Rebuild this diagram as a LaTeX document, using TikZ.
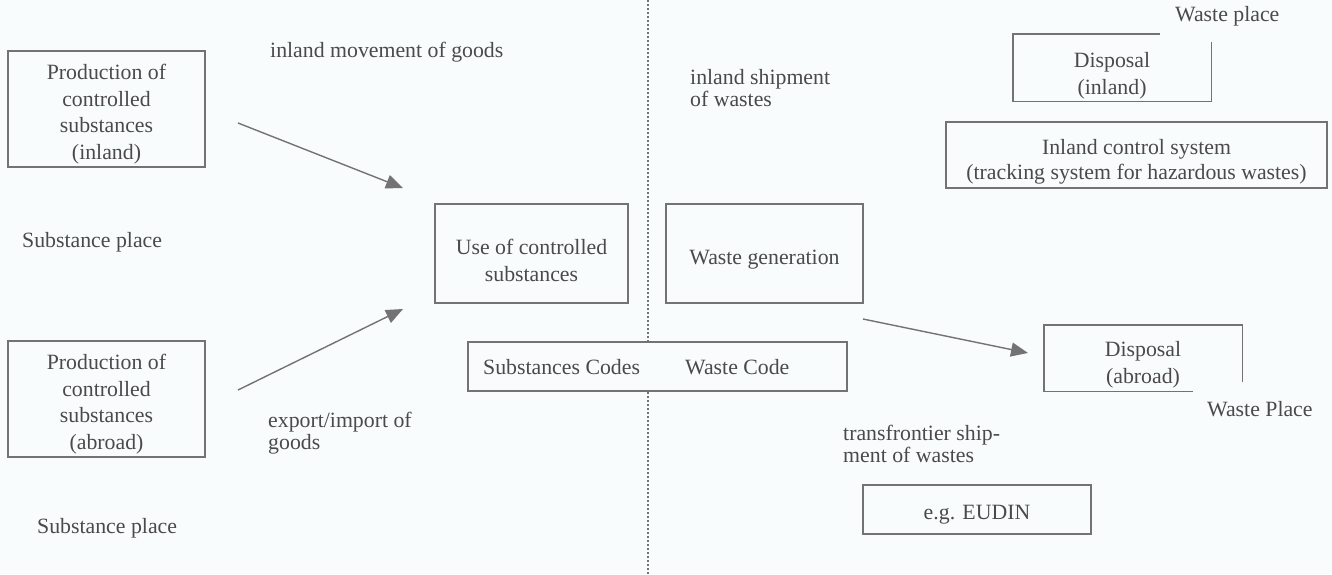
\documentclass[tikz,border=0pt]{standalone}
\usepackage{fontspec}
\setmainfont{Liberation Serif}
\usetikzlibrary{arrows.meta}
\definecolor{bg}{rgb}{0.975,0.99,0.99}
\definecolor{ink}{rgb}{0.29,0.29,0.29}
\definecolor{edge}{rgb}{0.45,0.45,0.45}

\begin{document}
\begin{tikzpicture}[x=1pt,y=-1pt,
  every node/.style={text=ink,font=\fontsize{21.8}{26.7}\selectfont},
  box/.style={draw=edge,line width=1.4pt,fill=bg,inner sep=0pt},
  boxtext/.style={align=center,inner sep=0pt},
  lbl/.style={anchor=west,inner sep=0pt,align=left,font=\fontsize{21.8}{22.5}\selectfont},
  flow/.style={draw=edge,line width=1.4pt,-{Triangle[length=17pt,width=14pt]}},
  divider/.style={draw=edge,line width=1.6pt,dash pattern=on 1.6pt off 2.4pt},
  rim/.style={draw=edge,line width=1.4pt},
]
\fill[bg] (0,0) rectangle (1332,574);
\useasboundingbox (0,0) rectangle (1332,574);

% dotted border between substances and wastes
\coordinate (divtop) at (648,0);
\coordinate (divbot) at (648,574);
\path[divider] (divtop) -- (divbot);

% substance side
\node[box,minimum width=197pt,minimum height=116pt] (prodin) at (106.5,109) {};
\node[boxtext] (prodintext) at ([yshift=-5pt]prodin.center)
  {Production of\\controlled\\substances\\(inland)};
\node[box,minimum width=197pt,minimum height=116pt] (prodab) at (106.5,399) {};
\node[boxtext] (prodabtext) at ([yshift=-5pt]prodab.center)
  {Production of\\controlled\\substances\\(abroad)};
\node[box,minimum width=193pt,minimum height=99pt] (use) at (531.5,253.5) {};
\node[boxtext] (usetext) at ([yshift=-7pt]use.center)
  {Use of controlled\\substances};

\node[lbl] (placeA) at (22,242) {Substance place};
\node[lbl] (placeB) at (37,528) {Substance place};
\node[lbl] (inlandgoods) at (270,52) {inland movement of goods};
\node[lbl] (exportgoods) at (268,433) {export/import of\\goods};

% waste side
\node[box,minimum width=197pt,minimum height=99pt] (wastegen) at (764.5,253.5) {};
\node[boxtext] (wastegentext) at ([yshift=-6pt]wastegen.center) {Waste generation};
\node[box,minimum width=379pt,minimum height=49pt] (codes) at (657.5,366.5) {};
\node[lbl] (subcodes) at (483,367) {Substances Codes};
\node[lbl] (wastecode) at (685,367) {Waste Code};

\node[box,minimum width=381pt,minimum height=66pt] (control) at (1136.5,155) {};
\node[boxtext,font=\fontsize{21.8}{25.5}\selectfont] (controltext) at ([yshift=-7pt]control.center)
  {Inland control system\\(tracking system for hazardous wastes)};

\node[minimum width=198pt,minimum height=67pt,inner sep=0pt] (disin) at (1112,67.5) {};
\node[boxtext] (disintext) at ([yshift=-8pt]disin.center) {Disposal\\(inland)};
\draw[rim] ([xshift=-51pt]disin.north east) -- (disin.north west)
  -- (disin.south west) -- (disin.south east) -- ([yshift=-8pt]disin.north east);
\node[lbl] (placeC) at (1175,16) {Waste place};

\node[minimum width=198pt,minimum height=66pt,inner sep=0pt] (disab) at (1143,358) {};
\node[boxtext] (disabtext) at ([yshift=-7pt]disab.center) {Disposal\\(abroad)};
\draw[rim] ([yshift=9pt]disab.south east) -- (disab.north east)
  -- (disab.north west) -- (disab.south west) -- ([xshift=-49pt]disab.south east);
\node[lbl] (placeD) at (1207,409) {Waste Place};

\node[lbl] (inlandwaste) at (690,88) {inland shipment\\of wastes};
\node[lbl] (transwaste) at (843,444) {transfrontier ship-\\ment of wastes};

\node[box,minimum width=228pt,minimum height=49pt] (eudin) at (977,509.5) {};
\node[boxtext] (eudintext) at ([yshift=-5pt]eudin.center) {e.g. EUDIN};

% flows
\coordinate (f1s) at (238,123);
\coordinate (f1e) at (403,188);
\coordinate (f2s) at (238,390);
\coordinate (f2e) at (403,309);
\coordinate (f3s) at (863,319);
\coordinate (f3e) at (1028,353);
\draw[flow] (f1s) -- (f1e);
\draw[flow] (f2s) -- (f2e);
\draw[flow] (f3s) -- (f3e);
\end{tikzpicture}
\end{document}
